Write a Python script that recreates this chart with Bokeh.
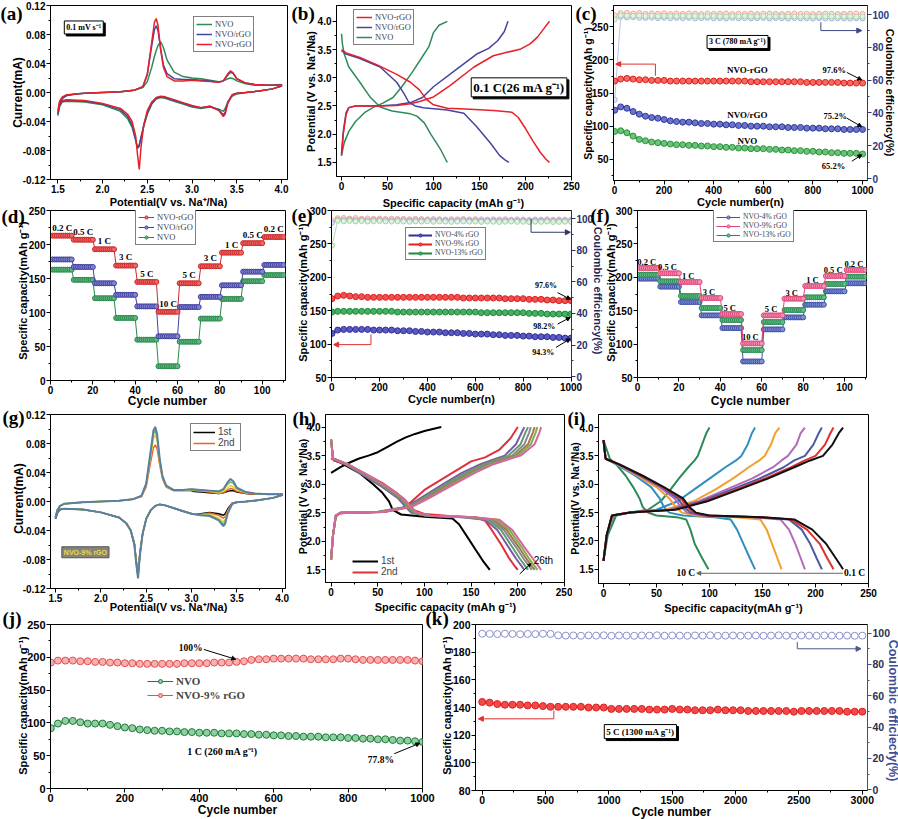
import numpy as np
from math import pi
from bokeh.plotting import figure
from bokeh.models import (Range1d, LinearAxis, Label, Legend, LegendItem, Arrow,
                          NormalHead, FixedTicker, PrintfTickFormatter)
from bokeh.layouts import column, row
from bokeh.embed import file_html
from bokeh.resources import INLINE

SANS = "Liberation Sans"
SERIF = "Liberation Serif"

# ======================= DATA =======================
# (a)/(g) cyclic voltammetry: potential grids (anodic sweep, cathodic sweep)
cv_up_x = [1.5, 1.52, 1.55, 1.6, 1.7, 1.8, 2.0, 2.2, 2.35, 2.45, 2.5, 2.55, 2.58, 2.6, 2.62,
           2.65, 2.68, 2.72, 2.8, 2.9, 3.0, 3.1, 3.2, 3.3, 3.35, 3.4, 3.43, 3.46, 3.5, 3.6,
           3.7, 3.85, 4.0]
cv_dn_x = [4.0, 3.9, 3.75, 3.6, 3.5, 3.45, 3.4, 3.37, 3.35, 3.3, 3.2, 3.1, 3.0, 2.9, 2.8,
           2.7, 2.65, 2.6, 2.55, 2.5, 2.46, 2.43, 2.41, 2.39, 2.37, 2.33, 2.28, 2.2, 2.0, 1.8,
           1.6, 1.55, 1.52, 1.5]
a_rgo_up = [-0.025, -0.012, -0.006, -0.003, -0.002, -0.001, 0.000, 0.001, 0.003, 0.008,
            0.025, 0.070, 0.097, 0.102, 0.092, 0.058, 0.035, 0.022, 0.016, 0.016,
            0.017, 0.016, 0.015, 0.014, 0.016, 0.026, 0.030, 0.027, 0.019, 0.013,
            0.011, 0.010, 0.010]
a_slash_up = [-0.030, -0.014, -0.008, -0.004, -0.002, -0.001, 0.000, 0.001, 0.003, 0.008,
              0.025, 0.065, 0.087, 0.092, 0.085, 0.060, 0.038, 0.026, 0.019, 0.018,
              0.018, 0.017, 0.016, 0.014, 0.016, 0.024, 0.028, 0.026, 0.019, 0.013,
              0.011, 0.010, 0.010]
a_nvo_up = [-0.032, -0.015, -0.008, -0.004, -0.002, -0.001, 0.000, 0.001, 0.003, 0.007,
            0.015, 0.035, 0.050, 0.058, 0.065, 0.070, 0.062, 0.045, 0.028, 0.022,
            0.020, 0.019, 0.017, 0.015, 0.016, 0.019, 0.020, 0.019, 0.016, 0.012,
            0.010, 0.010, 0.011]
a_rgo_dn = [0.009, 0.005, 0.002, 0.000, -0.001, -0.003, -0.015, -0.030, -0.033, -0.025,
            -0.019, -0.021, -0.018, -0.014, -0.010, -0.006, -0.005, -0.007, -0.013, -0.025,
            -0.045, -0.075, -0.106, -0.085, -0.060, -0.040, -0.030, -0.022, -0.015, -0.011,
            -0.010, -0.011, -0.016, -0.026]
a_slash_dn = [0.009, 0.005, 0.002, 0.000, -0.001, -0.003, -0.013, -0.027, -0.031, -0.024,
              -0.019, -0.021, -0.019, -0.015, -0.011, -0.007, -0.006, -0.008, -0.015, -0.028,
              -0.045, -0.062, -0.074, -0.077, -0.065, -0.045, -0.033, -0.024, -0.016, -0.012,
              -0.011, -0.012, -0.018, -0.030]
a_nvo_dn = [0.009, 0.005, 0.002, 0.000, -0.002, -0.005, -0.013, -0.022, -0.026, -0.023,
            -0.020, -0.022, -0.020, -0.016, -0.012, -0.008, -0.007, -0.009, -0.016, -0.030,
            -0.047, -0.062, -0.072, -0.075, -0.066, -0.048, -0.036, -0.026, -0.017, -0.013,
            -0.012, -0.013, -0.019, -0.032]

# (b) charge/discharge at 0.1 C
b_rgo_dis_cap = [0, 5, 20, 40, 60, 75, 85, 92, 100, 115, 140, 165, 185, 192, 200, 208, 216, 222, 226]
b_rgo_dis_v = [3.50, 3.44, 3.36, 3.22, 3.06, 2.92, 2.78, 2.62, 2.52, 2.46, 2.44, 2.42, 2.39, 2.30, 2.10, 1.88, 1.68, 1.56, 1.50]
b_rgo_chg_cap = [0, 2, 5, 8, 15, 40, 60, 75, 85, 100, 118, 144, 165, 180, 195, 205, 213, 220, 226]
b_rgo_chg_v = [1.62, 2.00, 2.35, 2.47, 2.50, 2.50, 2.51, 2.54, 2.58, 2.66, 2.86, 3.19, 3.39, 3.45, 3.51, 3.60, 3.72, 3.87, 4.00]
b_slash_dis_cap = [0, 5, 20, 42, 60, 68, 73, 80, 89, 115, 133, 147, 162, 172, 178, 182]
b_slash_dis_v = [3.48, 3.42, 3.34, 3.19, 2.92, 2.72, 2.57, 2.50, 2.47, 2.43, 2.37, 2.13, 1.84, 1.62, 1.54, 1.50]
b_slash_chg_cap = [0, 2, 5, 8, 15, 40, 60, 75, 88, 100, 126, 147, 160, 170, 177, 181]
b_slash_chg_v = [1.65, 2.05, 2.38, 2.47, 2.50, 2.50, 2.52, 2.56, 2.65, 2.84, 3.16, 3.42, 3.52, 3.66, 3.82, 4.00]
b_nvo_dis_cap = [0, 1, 3, 8, 20, 31, 42, 55, 64, 75, 82, 90, 97, 103, 108, 113, 115]
b_nvo_dis_v = [3.78, 3.60, 3.42, 3.19, 2.92, 2.66, 2.48, 2.41, 2.39, 2.36, 2.32, 2.20, 2.00, 1.85, 1.72, 1.56, 1.50]
b_nvo_chg_cap = [0, 3, 8, 15, 25, 35, 45, 56, 66, 77, 87, 95, 100, 106, 115]
b_nvo_chg_v = [1.62, 1.85, 2.05, 2.22, 2.38, 2.48, 2.55, 2.65, 2.85, 3.10, 3.35, 3.55, 3.80, 3.93, 4.00]

# (c) cycling at 3 C
c_cyc = [1] + list(range(25, 1001, 25))
c_rgo = [168, 171, 172, 171, 170, 170, 169, 169, 169, 168, 168, 168, 168, 168, 168, 168, 168, 168,
         168, 168, 168, 168, 167, 167, 167, 167, 167, 167, 167, 167, 167, 166, 166, 166, 166, 166,
         166, 165, 165, 165, 165]
c_slash = [124, 129, 127, 122, 118, 115, 113, 112, 110, 108, 107, 106, 106, 105, 104, 104, 103, 103,
           102, 102, 101, 101, 100, 100, 100, 99, 99, 99, 98, 98, 98, 97, 97, 97, 96, 96, 96, 95, 95,
           95, 95]
c_nvo = [92, 93, 90, 85, 80, 78, 76, 75, 74, 73, 72, 72, 71, 71, 70, 70, 69, 69, 68, 68, 67, 67, 66,
         66, 66, 65, 65, 64, 64, 63, 63, 62, 62, 61, 61, 60, 60, 59, 59, 59, 58]
ce_c_rgo = [99.5, 100.8, 101.0, 100.6, 100.9, 100.4, 100.7, 100.5, 100.8, 100.3,
            100.6, 100.4, 100.7, 100.5, 100.3, 100.6, 100.4, 100.5, 100.7, 100.3,
            100.5, 100.4, 100.6, 100.3, 100.5, 100.6, 100.4, 100.3, 100.5, 100.6,
            100.4, 100.5, 100.3, 100.4, 100.6, 100.5, 100.3, 100.4, 100.5, 100.6, 100.4]
ce_c_slash = [48.0, 98.6, 98.2, 98.4, 98.0, 97.9, 98.1, 97.8, 98.0, 97.7,
              97.9, 97.8, 98.0, 97.6, 97.8, 97.9, 97.7, 97.8, 97.6, 97.9,
              97.7, 97.8, 97.6, 97.7, 97.9, 97.6, 97.8, 97.7, 97.5, 97.8,
              97.6, 97.7, 97.5, 97.8, 97.6, 97.5, 97.7, 97.6, 97.5, 97.7, 97.6]
ce_c_nvo = [97.0, 99.5, 99.3, 99.2, 99.4, 99.1, 99.3, 99.0, 99.2, 99.1,
            99.0, 99.2, 98.9, 99.1, 99.0, 98.9, 99.1, 99.0, 98.8, 99.0,
            98.9, 99.1, 98.8, 98.9, 99.0, 98.8, 98.9, 99.0, 98.8, 98.9,
            98.7, 98.9, 98.8, 98.7, 98.9, 98.8, 98.7, 98.8, 98.9, 98.7, 98.8]

# (d) rate performance (one value per 10-cycle step)
rate_labels = ["0.2 C", "0.5 C", "1 C", "3 C", "5 C", "10 C", "5 C", "3 C", "1 C", "0.5 C", "0.2 C"]
d_rgo_steps = [213, 207, 193, 169, 145, 101, 143, 168, 188, 202, 211]
d_slash_steps = [178, 167, 143, 126, 109, 65, 108, 123, 140, 160, 170]
d_nvo_steps = [163, 148, 121, 92, 60, 21, 57, 91, 120, 146, 155]

# (e) cycling of rGO contents
e_cyc = [1] + list(range(25, 1001, 25))
e_9 = [168, 172, 173, 172, 171, 171, 170, 170, 170, 170, 170, 170, 170, 170, 170, 170, 170, 170,
       170, 170, 170, 170, 169, 169, 169, 169, 169, 169, 169, 168, 168, 168, 168, 167, 167, 167,
       166, 166, 165, 165, 165]
e_13 = [148, 149, 149, 149, 149, 149, 149, 149, 149, 149, 149, 148, 148, 148, 148, 148, 148, 148,
        148, 148, 148, 148, 148, 148, 148, 147, 147, 147, 147, 147, 147, 147, 147, 146, 146, 146,
        145, 145, 145, 145, 145]
e_4 = [116, 121, 122, 122, 122, 122, 122, 121, 121, 121, 121, 120, 120, 120, 119, 119, 118, 118,
       118, 117, 117, 117, 116, 116, 115, 115, 115, 114, 114, 113, 113, 113, 112, 112, 111, 111,
       111, 110, 110, 109, 109]
ce_e_9 = [99.0, 100.4, 100.6, 100.2, 100.5, 100.1, 100.3, 100.0, 100.2, 99.9,
          100.1, 99.9, 100.0, 99.8, 100.0, 99.9, 99.7, 99.9, 99.8, 99.6,
          99.8, 99.7, 99.9, 99.6, 99.8, 99.7, 99.5, 99.7, 99.6, 99.8,
          99.5, 99.7, 99.6, 99.4, 99.6, 99.5, 99.7, 99.4, 99.6, 99.5, 99.6]
ce_e_13 = [83.0, 98.8, 98.5, 98.7, 98.4, 98.6, 98.3, 98.5, 98.6, 98.4,
           98.3, 98.5, 98.4, 98.2, 98.4, 98.3, 98.5, 98.2, 98.4, 98.3,
           98.1, 98.3, 98.4, 98.2, 98.3, 98.1, 98.3, 98.2, 98.0, 98.2,
           98.3, 98.1, 98.2, 98.0, 98.2, 98.1, 98.3, 98.0, 98.1, 98.2, 98.1]
ce_e_4 = [97.5, 99.4, 99.2, 99.5, 99.1, 99.3, 99.0, 99.2, 99.3, 99.1,
          99.0, 99.2, 99.1, 98.9, 99.1, 99.0, 99.2, 98.9, 99.1, 99.0,
          98.8, 99.0, 99.1, 98.9, 99.0, 98.8, 99.0, 98.9, 98.7, 98.9,
          99.0, 98.8, 98.9, 98.7, 98.9, 98.8, 99.0, 98.7, 98.8, 98.9, 98.8]

# (f) rate performance of rGO contents
f_4_steps = [198, 186, 163, 143, 124, 74, 122, 140, 159, 179, 191]
f_9_steps = [214, 206, 193, 169, 145, 101, 143, 168, 187, 202, 211]
f_13_steps = [204, 194, 172, 154, 136, 91, 133, 151, 170, 190, 201]

# (g) CV cycles of NVO-9% rGO
g_1st_up_x = [3.0, 3.1, 3.2, 3.3, 3.35, 3.4, 3.43, 3.46, 3.5, 3.6, 3.7, 3.85, 4.0]
g_1st_up = [0.014, 0.013, 0.012, 0.011, 0.012, 0.014, 0.015, 0.015, 0.013, 0.011, 0.010, 0.010, 0.010]
g_2nd_up = [-0.022, -0.012, -0.006, -0.003, -0.002, -0.001, 0.000, 0.001, 0.003, 0.007,
            0.020, 0.055, 0.074, 0.078, 0.073, 0.050, 0.031, 0.020, 0.015, 0.015,
            0.015, 0.014, 0.013, 0.011, 0.012, 0.016, 0.018, 0.017, 0.014, 0.011,
            0.010, 0.010, 0.010]
g_3rd_up = [-0.022, -0.012, -0.006, -0.003, -0.002, -0.001, 0.000, 0.001, 0.003, 0.008,
            0.023, 0.063, 0.087, 0.092, 0.084, 0.054, 0.033, 0.021, 0.016, 0.016,
            0.016, 0.015, 0.014, 0.012, 0.014, 0.019, 0.022, 0.020, 0.016, 0.012,
            0.011, 0.010, 0.010]
g_4th_up = [-0.022, -0.012, -0.006, -0.003, -0.002, -0.001, 0.000, 0.001, 0.003, 0.008,
            0.024, 0.067, 0.093, 0.098, 0.089, 0.056, 0.034, 0.022, 0.016, 0.016,
            0.017, 0.016, 0.015, 0.013, 0.016, 0.024, 0.027, 0.025, 0.018, 0.012,
            0.011, 0.010, 0.010]
g_5th_up = [-0.022, -0.012, -0.006, -0.003, -0.002, -0.001, 0.000, 0.001, 0.003, 0.008,
            0.025, 0.070, 0.098, 0.103, 0.093, 0.058, 0.035, 0.022, 0.016, 0.016,
            0.017, 0.016, 0.015, 0.014, 0.017, 0.027, 0.031, 0.028, 0.019, 0.013,
            0.011, 0.010, 0.010]
g_1st_dn = [0.009, 0.005, 0.002, 0.000, -0.001, -0.002, -0.010, -0.017, -0.019, -0.017,
            -0.015, -0.017, -0.017, -0.013, -0.009, -0.005, -0.004, -0.006, -0.012, -0.024,
            -0.045, -0.072, -0.100, -0.082, -0.058, -0.040, -0.030, -0.022, -0.015, -0.011,
            -0.010, -0.011, -0.016, -0.024]
g_2nd_dn = [0.009, 0.005, 0.002, 0.000, -0.001, -0.002, -0.012, -0.021, -0.023, -0.019,
            -0.016, -0.018, -0.017, -0.013, -0.009, -0.005, -0.004, -0.006, -0.012, -0.024,
            -0.045, -0.073, -0.102, -0.083, -0.059, -0.040, -0.030, -0.022, -0.015, -0.011,
            -0.010, -0.011, -0.016, -0.024]
g_3rd_dn = [0.009, 0.005, 0.002, 0.000, -0.001, -0.003, -0.014, -0.025, -0.028, -0.023,
            -0.018, -0.018, -0.017, -0.013, -0.009, -0.005, -0.004, -0.006, -0.012, -0.024,
            -0.045, -0.074, -0.104, -0.084, -0.060, -0.040, -0.030, -0.022, -0.015, -0.011,
            -0.010, -0.011, -0.016, -0.024]
g_4th_dn = [0.009, 0.005, 0.002, 0.000, -0.001, -0.003, -0.015, -0.028, -0.031, -0.025,
            -0.019, -0.019, -0.017, -0.013, -0.009, -0.005, -0.004, -0.006, -0.012, -0.024,
            -0.045, -0.075, -0.105, -0.085, -0.060, -0.040, -0.030, -0.022, -0.015, -0.011,
            -0.010, -0.011, -0.016, -0.024]
g_5th_dn = [0.009, 0.005, 0.002, 0.000, -0.001, -0.003, -0.016, -0.031, -0.034, -0.026,
            -0.020, -0.019, -0.017, -0.013, -0.009, -0.005, -0.004, -0.006, -0.012, -0.024,
            -0.045, -0.075, -0.106, -0.085, -0.060, -0.040, -0.030, -0.022, -0.015, -0.011,
            -0.010, -0.011, -0.016, -0.024]

# (h) charge/discharge cycles 1st..26th
h_1st_chg_cap = [0, 10, 20, 30, 40, 50, 60, 70, 80, 90, 100, 110, 118]
h_1st_chg_v = [3.20, 3.30, 3.38, 3.45, 3.50, 3.56, 3.65, 3.74, 3.82, 3.88, 3.93, 3.97, 4.00]
h_1st_dis_cap = [3, 10, 30, 45, 55, 62, 66, 75, 100, 130, 137, 145, 155, 163, 170]
h_1st_dis_v = [3.42, 3.38, 3.20, 3.00, 2.85, 2.70, 2.55, 2.47, 2.43, 2.40, 2.30, 2.10, 1.85, 1.65, 1.50]
h_2nd_chg_cap = [0, 2, 5, 8, 15, 40, 60, 75, 85, 100, 125, 140, 150, 165, 180, 192, 200]
h_2nd_chg_v = [1.70, 2.10, 2.42, 2.48, 2.50, 2.50, 2.52, 2.57, 2.68, 2.90, 3.15, 3.30, 3.40, 3.47, 3.60, 3.80, 4.00]
h_2nd_dis_cap = [0, 3, 15, 35, 55, 70, 80, 88, 100, 130, 155, 165, 172, 182, 190, 197, 200]
h_2nd_dis_v = [3.45, 3.42, 3.35, 3.20, 3.02, 2.85, 2.70, 2.55, 2.48, 2.44, 2.42, 2.36, 2.20, 1.95, 1.72, 1.56, 1.50]
h_dis_v = [3.78, 3.45, 3.35, 3.15, 2.95, 2.75, 2.60, 2.50, 2.45, 2.42, 2.38, 2.20, 1.90, 1.70, 1.50]
h_chg_v = [1.68, 2.10, 2.45, 2.50, 2.52, 2.60, 2.75, 3.00, 3.20, 3.35, 3.42, 3.50, 3.70, 3.90, 4.00]
h_later_dis = [
    [0, 2, 15, 35, 55, 72, 80, 86, 100, 140, 165, 178, 190, 198, 207],
    [0, 2, 16, 37, 57, 74, 82, 88, 102, 145, 168, 182, 194, 202, 211],
    [0, 2, 17, 38, 58, 75, 83, 89, 104, 148, 171, 185, 198, 206, 215],
    [0, 2, 17, 39, 59, 76, 84, 90, 105, 150, 174, 188, 201, 209, 218],
    [0, 2, 18, 40, 60, 77, 85, 91, 106, 152, 177, 191, 204, 212, 221],
    [0, 2, 18, 40, 61, 78, 86, 92, 107, 153, 180, 194, 207, 216, 225],
]
h_later_chg = [
    [0, 2, 5, 10, 50, 80, 95, 120, 140, 160, 172, 186, 198, 204, 207],
    [0, 2, 5, 10, 52, 82, 98, 123, 144, 164, 176, 190, 203, 208, 211],
    [0, 2, 5, 10, 53, 83, 100, 126, 147, 167, 179, 194, 207, 212, 214],
    [0, 2, 5, 10, 54, 84, 101, 128, 150, 170, 182, 197, 211, 216, 218],
    [0, 2, 5, 10, 55, 85, 103, 130, 152, 172, 185, 200, 214, 219, 221],
    [0, 2, 5, 10, 56, 86, 104, 132, 154, 174, 187, 203, 218, 223, 225],
]

# (i) charge/discharge at different rates
i_dis_v = [3.78, 3.45, 3.35, 3.15, 2.95, 2.75, 2.60, 2.50, 2.45, 2.42, 2.38, 2.20, 1.95, 1.70, 1.50]
i_chg_v = [1.65, 2.10, 2.45, 2.50, 2.55, 2.70, 2.90, 3.10, 3.30, 3.42, 3.50, 3.70, 3.90, 4.00]
i_dis_10C = [0, 6, 12, 21, 28, 34, 37, 42, 50, 69, 78, 82, 86, 93, 99]
i_dis_5C = [0, 2, 12, 30, 45, 53, 57, 62, 75, 105, 120, 126, 132, 138, 143]
i_dis_2C = [0, 2, 13, 32, 50, 62, 68, 74, 88, 125, 148, 154, 159, 164, 168]
i_dis_1C = [0, 2, 14, 34, 53, 67, 73, 79, 92, 140, 167, 175, 181, 186, 190]
i_dis_05C = [0, 2, 14, 35, 55, 70, 76, 82, 95, 145, 175, 187, 195, 201, 206]
i_dis_02C = [0, 2, 15, 36, 56, 73, 79, 85, 98, 148, 177, 192, 204, 211, 217]
i_dis_01C = [0, 2, 15, 37, 57, 75, 81, 87, 100, 150, 180, 197, 210, 219, 226]
i_chg_10C = [0, 4, 12, 25, 42, 54, 63, 71, 80, 86, 89, 93, 97, 100]
i_chg_5C = [0, 3, 10, 25, 50, 70, 85, 100, 115, 125, 130, 136, 140, 143]
i_chg_2C = [0, 3, 9, 25, 58, 85, 105, 122, 137, 147, 152, 158, 162, 166]
i_chg_1C = [0, 3, 8, 25, 62, 90, 115, 140, 160, 168, 174, 182, 186, 190]
i_chg_05C = [0, 3, 8, 25, 64, 93, 120, 147, 170, 180, 190, 198, 203, 206]
i_chg_02C = [0, 3, 8, 25, 66, 96, 124, 152, 177, 190, 200, 209, 214, 217]
i_chg_01C = [0, 3, 8, 25, 68, 98, 127, 155, 180, 195, 207, 216, 222, 226]

# (j) cycling at 1 C
j_cyc = [1] + list(range(20, 1001, 20))
j_rgo = [192, 195, 195, 195, 194, 194, 193, 193, 192, 192, 191, 191, 190, 190, 190, 190, 190, 190,
         191, 191, 191, 191, 192, 192, 192, 193, 194, 196, 197, 197, 198, 198, 198, 198, 198, 197,
         197, 197, 197, 198, 198, 197, 196, 196, 196, 196, 196, 196, 196, 195, 194]
j_nvo = [92, 99, 103, 103, 101, 99, 99, 99, 97, 95, 93, 92, 90, 89, 88, 88, 87, 87, 86, 86, 85, 85,
         85, 84, 84, 84, 83, 83, 82, 82, 81, 81, 80, 80, 79, 79, 79, 78, 78, 78, 77, 77, 76, 76, 75,
         75, 74, 73, 73, 72, 71]

# (k) long cycling at 5 C
k_cyc = [1] + list(range(60, 3001, 60))
k_cap = [144.0, 143.5, 142.5, 142.0, 142.0, 142.0, 141.5, 141.5, 141.0, 140.5,
         140.5, 140.5, 140.5, 140.5, 140.0, 140.0, 140.0, 139.0, 139.0, 139.0,
         139.0, 139.0, 138.5, 138.5, 138.5, 139.0, 138.5, 138.5, 138.0, 138.0,
         138.0, 138.5, 138.0, 138.0, 138.0, 137.5, 137.5, 137.5, 137.5, 137.5,
         137.5, 137.0, 137.5, 137.5, 137.5, 137.5, 137.5, 137.5, 137.0, 137.0, 137.0]
k_ce = [99.6, 99.5, 99.4, 99.6, 99.5, 99.3, 99.5, 99.4, 99.6, 99.5,
        98.6, 98.4, 98.5, 98.3, 98.5, 98.4, 98.6, 98.3, 98.5, 98.4,
        98.3, 98.5, 98.4, 98.6, 98.3, 98.5, 98.4, 98.3, 98.5, 98.4,
        98.6, 98.3, 98.4, 98.5, 98.3, 98.4, 98.5, 98.3, 98.4, 98.6,
        98.4, 98.3, 98.5, 98.4, 98.3, 98.5, 98.4, 98.3, 98.4, 98.3, 98.4]

# panel letters and axis titles (texts)
panel_letters = ["(a)", "(b)", "(c)", "(d)", "(e)", "(f)", "(g)", "(h)", "(i)", "(j)", "(k)"]
T_CAP = "Specific capacity(mAh g⁻¹)"
T_CAP_SP = "Specific capacity (mAh g⁻¹)"
T_POT = "Potential(V vs. Na⁺/Na)"
T_POT_SP = "Potential (V vs. Na⁺/Na)"
T_CE = "Coulombic efficiency(%)"

# ======================= HELPERS =======================
def make(xr, yr, bl, fw, br, bt, fh, bb):
    p = figure(frame_width=fw, frame_height=fh, min_border_left=bl, min_border_right=br,
               min_border_top=bt, min_border_bottom=bb, x_range=Range1d(*xr), y_range=Range1d(*yr),
               output_backend="svg", toolbar_location=None)
    p.outline_line_color = "black"
    p.outline_line_width = 1
    p.outline_line_alpha = 1
    p.xgrid.visible = False
    p.ygrid.visible = False
    p.background_fill_color = "white"
    p.border_fill_color = "white"
    return p


def mids(t):
    return [(a + b) / 2 for a, b in zip(t[:-1], t[1:])]


def style_axis(ax, major, minor, fmt, size="10px", color="black", line_color="black"):
    ax.ticker = FixedTicker(ticks=major, minor_ticks=minor)
    ax.formatter = PrintfTickFormatter(format=fmt)
    ax.axis_line_color = line_color
    ax.major_tick_line_color = line_color
    ax.minor_tick_line_color = line_color
    ax.major_tick_out = 4
    ax.major_tick_in = 0
    ax.minor_tick_out = 2
    ax.minor_tick_in = 0
    ax.major_label_standoff = 1
    ax.major_label_text_font = SANS
    ax.major_label_text_font_style = "bold"
    ax.major_label_text_font_size = size
    ax.major_label_text_color = color


def axes(p, xt, yt, xf, yf, size="10px", xminor=None, yminor=None):
    style_axis(p.xaxis[0], xt, xminor if xminor is not None else mids(xt), xf, size)
    style_axis(p.yaxis[0], yt, yminor if yminor is not None else mids(yt), yf, size)


def add_right(p, rng, major, color, size="10px", line_color=None):
    p.extra_y_ranges = {"ce": Range1d(*rng)}
    ax = LinearAxis(y_range_name="ce")
    p.add_layout(ax, "right")
    style_axis(ax, major, mids(major), "%d", size, color, line_color or color)
    return ax


def lab(p, x, y, text, size="9px", font=SERIF, style="bold", color="black", align="center",
        baseline="middle", units="data", angle=0.0, yname="default", **kw):
    l = Label(x=x, y=y, x_units=units, y_units=units, text=text, text_font=font,
              text_font_size=size, text_font_style=style, text_color=color,
              text_align=align, text_baseline=baseline, angle=angle, y_range_name=yname, **kw)
    p.add_layout(l)
    return l


def boxed(p, x, y, s, size, yname="default"):
    lab(p, x, y, s, size=size, x_offset=2, y_offset=-2, background_fill_color="black",
        border_line_color="black", yname=yname, padding=2)
    lab(p, x, y, s, size=size, background_fill_color="white", border_line_color="black",
        yname=yname, padding=2)


def arr(p, x0, y0, x1, y1, color="black", w=1, size=4, yname="default"):
    p.add_layout(Arrow(x_start=x0, y_start=y0, x_end=x1, y_end=y1, line_color=color, line_width=w,
                       end=NormalHead(size=size, fill_color=color, line_color=color),
                       y_range_name=yname))


def dots(p, x, y, color, fill, size=6, yname="default", lw=1.0, line=True):
    rs = []
    if line:
        rs.append(p.line(x, y, line_color=color, line_width=lw, y_range_name=yname))
    rs.append(p.scatter(x, y, marker="circle", size=size, line_color=color, fill_color=fill,
                        line_width=1, y_range_name=yname))
    return rs


def legend(p, items, loc, size="8.5px", font=SERIF, style="normal", border=True, gw=16, gh=8,
           lh=8, padding=2, spacing=0):
    lg = Legend(items=[LegendItem(label=l, renderers=r) for l, r in items], location=loc,
                orientation="vertical", label_text_font=font, label_text_font_size=size,
                label_text_font_style=style, glyph_width=gw, glyph_height=gh, label_height=lh,
                label_standoff=3, spacing=spacing, padding=padding, margin=0,
                border_line_color="black" if border else None,
                background_fill_alpha=1.0 if border else 0.0)
    p.add_layout(lg)


cv_xt = [1.5, 2.0, 2.5, 3.0, 3.5, 4.0]
cv_yt = [-0.12, -0.08, -0.04, 0.0, 0.04, 0.08, 0.12]
cap_xt = [0, 50, 100, 150, 200, 250]
v_yt = [1.5, 2.0, 2.5, 3.0, 3.5, 4.0]
cyc1000 = [0, 200, 400, 600, 800, 1000]
ce_t = [0, 20, 40, 60, 80, 100]
rate_x = list(range(1, 111))

RED, BLUE, GREEN = "#e8202a", "#45459e", "#2e8b57"

# ---------------- (a) ----------------
pa = make((1.418, 4.067), (-0.12, 0.12), 50, 237, 6, 5, 174, 26)
axes(pa, cv_xt, cv_yt, "%.1f", "%.2f")
ra1 = pa.line(cv_up_x + cv_dn_x, a_nvo_up + a_nvo_dn, line_color=GREEN, line_width=1.5)
ra2 = pa.line(cv_up_x + cv_dn_x, a_slash_up + a_slash_dn, line_color=BLUE, line_width=1.5)
ra3 = pa.line(cv_up_x + cv_dn_x, a_rgo_up + a_rgo_dn, line_color=RED, line_width=1.5)
legend(pa, [("NVO", [ra1]), ("NVO/rGO", [ra2]), ("NVO-rGO", [ra3])], (143, 127))
boxed(pa, 1.79, 0.0897, "0.1 mV s⁻¹", "8px")

# ---------------- (b) ----------------
pb = make((-5.4, 250), (1.25, 4.28), 43, 235, 9, 5, 171, 29)
axes(pb, cap_xt, v_yt, "%d", "%.1f")
rb3 = pb.line(b_nvo_dis_cap, b_nvo_dis_v, line_color=GREEN, line_width=1.5)
pb.line(b_nvo_chg_cap, b_nvo_chg_v, line_color=GREEN, line_width=1.5)
rb2 = pb.line(b_slash_dis_cap, b_slash_dis_v, line_color=BLUE, line_width=1.5)
pb.line(b_slash_chg_cap, b_slash_chg_v, line_color=BLUE, line_width=1.5)
rb1 = pb.line(b_rgo_dis_cap, b_rgo_dis_v, line_color=RED, line_width=1.5)
pb.line(b_rgo_chg_cap, b_rgo_chg_v, line_color=RED, line_width=1.5)
legend(pb, [("NVO-rGO", [rb1]), ("NVO/rGO", [rb2]), ("NVO", [rb3])], (17, 131))
boxed(pb, 193, 2.83, "0.1 C(26 mA g⁻¹)", "13px")

# ---------------- (c) ----------------
pc = make((-4, 1020), (18, 282), 33, 254, 31, 5, 175, 25)
axes(pc, cyc1000, [50, 100, 150, 200, 250], "%d", "%d",
     yminor=[25, 75, 125, 175, 225, 275])
add_right(pc, (-1.2, 105.5), ce_t, "#2b3a80")
dots(pc, c_cyc, ce_c_rgo, "#f3a49c", "#fde3df", 5, "ce", 0.8)
dots(pc, c_cyc, ce_c_slash, "#a7b2e2", "#e3e7f7", 5, "ce", 0.8)
dots(pc, c_cyc, ce_c_nvo, "#a9d9ab", "#e3f3e3", 5, "ce", 0.8)
dots(pc, c_cyc, c_rgo, "#e0201c", "#f26a62", 6, lw=2)
dots(pc, c_cyc, c_slash, "#2f3aa0", "#6b74c8", 6, lw=2)
dots(pc, c_cyc, c_nvo, "#27953a", "#6cc27a", 6, lw=2)
lab(pc, 536, 185, "NVO-rGO", "9px")
lab(pc, 536, 117, "NVO/rGO", "9px")
lab(pc, 536, 77, "NVO", "9px")
lab(pc, 886, 185, "97.6%", "8.5px")
lab(pc, 890, 116, "75.2%", "8.5px")
lab(pc, 883, 40, "65.2%", "8.5px")
arr(pc, 937, 181, 997, 169.5)
arr(pc, 937, 112, 997, 99)
arr(pc, 957, 47, 997, 57)
pc.line([165, 165], [176, 193.6], line_color="#e03030", line_width=1)
arr(pc, 165, 193.6, 5, 193.6, "#e03030", size=5)
pc.line([832, 832], [95.3, 90.2], line_color="#3a4a8a", line_width=1, y_range_name="ce")
arr(pc, 832, 90.2, 997, 90.2, "#3a4a8a", size=5, yname="ce")
boxed(pc, 496, 227, "3 C (780 mA g⁻¹)", "8px")

# ---------------- (d) ----------------
pD = make((0, 111), (0, 250), 50, 235, 5, 5, 170, 27)
axes(pD, [0, 20, 40, 60, 80, 100], [0, 50, 100, 150, 200, 250], "%d", "%d",
     xminor=[10, 30, 50, 70, 90, 110])
rd3 = dots(pD, rate_x, np.repeat(d_nvo_steps, 10).tolist(), "#2a8a4a", "#62b583", 5)
rd2 = dots(pD, rate_x, np.repeat(d_slash_steps, 10).tolist(), "#4040a0", "#8585d2", 5)
rd1 = dots(pD, rate_x, np.repeat(d_rgo_steps, 10).tolist(), "#cc2a2a", "#f06565", 5)
legend(pD, [("NVO-rGO", rd1), ("NVO/rGO", rd2), ("NVO", rd3)], (85, 135))
for k, (t, v) in enumerate(zip(rate_labels, d_rgo_steps)):
    lab(pD, 10 * k + 5.5, v + 12, t, "9px")

# ---------------- (e) ----------------
pe = make((-1, 1002), (50, 300), 41, 240, 31, 5, 167, 30)
axes(pe, cyc1000, [50, 100, 150, 200, 250, 300], "%d", "%d")
add_right(pe, (-0.6, 105.3), ce_t, "#26306a")
dots(pe, e_cyc, ce_e_9, "#f0a8a0", "#fbe0dc", 5, "ce", 0.8)
dots(pe, e_cyc, ce_e_4, "#a0a8d8", "#e0e4f5", 5, "ce", 0.8)
dots(pe, e_cyc, ce_e_13, "#a0d4a0", "#e0f2e0", 5, "ce", 0.8)
re_b = dots(pe, e_cyc, e_4, "#30309a", "#5a5ac2", 6, lw=2)
re_r = dots(pe, e_cyc, e_9, "#e02020", "#f05050", 6, lw=2)
re_g = dots(pe, e_cyc, e_13, "#1f8a3a", "#45b063", 6, lw=2)
legend(pe, [("NVO-4% rGO", re_b), ("NVO-9% rGO", re_r), ("NVO-13% rGO", re_g)], (74, 117),
       size="7.5px", gw=24)
lab(pe, 895, 187, "97.6%", "8px")
lab(pe, 888, 126, "98.2%", "8px")
lab(pe, 884, 88, "94.3%", "8px")
arr(pe, 944, 177, 998, 167)
arr(pe, 944, 130, 997, 140)
arr(pe, 937, 95, 997, 108)
pe.line([164, 164], [99.2, 114.3], line_color="#e03030", line_width=1)
arr(pe, 164, 99.2, 8, 99.2, "#e03030", size=5)
pe.line([833, 833], [100, 91.5], line_color="#2a3a6a", line_width=1, y_range_name="ce")
arr(pe, 833, 91.5, 997, 91.5, "#2a3a6a", size=5, yname="ce")

# ---------------- (f) ----------------
pf = make((0, 110.6), (50, 300), 35, 229, 32, 5, 167, 30)
axes(pf, [0, 20, 40, 60, 80, 100], [50, 100, 150, 200, 250, 300], "%d", "%d",
     xminor=[10, 30, 50, 70, 90, 110])
rf_b = dots(pf, rate_x, np.repeat(f_4_steps, 10).tolist(), "#4050a8", "#8090d0", 5)
rf_g = dots(pf, rate_x, np.repeat(f_13_steps, 10).tolist(), "#2e8b57", "#60c080", 5)
rf_r = dots(pf, rate_x, np.repeat(f_9_steps, 10).tolist(), "#e0457a", "#f590b0", 5)
legend(pf, [("NVO-4% rGO", rf_b), ("NVO-9% rGO", rf_r), ("NVO-13% rGO", rf_g)], (76, 135),
       size="7.5px", gw=24)
for k, (t, v) in enumerate(zip(rate_labels, f_9_steps)):
    lab(pf, 10 * k + 4.5, v + 9, t, "8.5px")

# ---------------- (g) ----------------
pg = make((1.445, 4.036), (-0.12, 0.12), 50, 235, 8, 4, 174, 25)
axes(pg, cv_xt, cv_yt, "%.1f", "%.2f")
rg1 = pg.line(g_1st_up_x + cv_dn_x, g_1st_up + g_1st_dn, line_color="black", line_width=1.5)
rg2 = pg.line(cv_up_x + cv_dn_x, g_2nd_up + g_2nd_dn, line_color="#e8642c", line_width=1.5)
pg.line(cv_up_x + cv_dn_x, g_3rd_up + g_3rd_dn, line_color="#f0d12a", line_width=1.5)
pg.line(cv_up_x + cv_dn_x, g_4th_up + g_4th_dn, line_color="#6cbf5a", line_width=1.5)
pg.line(cv_up_x + cv_dn_x, g_5th_up + g_5th_dn, line_color="#5b7fa0", line_width=2)
legend(pg, [("1st", [rg1]), ("2nd", [rg2])], (140, 137), size="10px", font=SANS, gw=22, lh=10)
lab(pg, 1.83, -0.070, "NVO-9% rGO", "7px", SANS, "bold", color="#ecd94a",
    background_fill_color="#858578", border_line_color="#555555", padding=2)

# ---------------- (h) ----------------
ph = make((-6, 250), (1.28, 4.22), 32, 239, 8, 7, 168, 28)
axes(ph, cap_xt, v_yt, "%d", "%.1f")
rh1 = ph.line(h_1st_chg_cap, h_1st_chg_v, line_color="black", line_width=2)
ph.line(h_1st_dis_cap, h_1st_dis_v, line_color="black", line_width=2)
rh2 = ph.line(h_2nd_chg_cap, h_2nd_chg_v, line_color="#e0303a", line_width=2)
ph.line(h_2nd_dis_cap, h_2nd_dis_v, line_color="#e0303a", line_width=2)
H_COLS = ["#7b5aa6", "#5e9e6e", "#8a8a8a", "#a07850", "#7fb04a", "#d4679e"]
for cd, cc, col in zip(h_later_dis, h_later_chg, H_COLS):
    ph.line(cd, h_dis_v, line_color=col, line_width=2)
    ph.line(cc, h_chg_v, line_color=col, line_width=2)
legend(ph, [("1st", [rh1]), ("2nd", [rh2])], (27, 5), size="10px", font=SANS, border=False,
       gw=26, lh=10)
lab(ph, 217, 1.66, "26th", "10px", SANS, "normal", align="left")
arr(ph, 202, 1.43, 214, 1.61, size=3)

# ---------------- (i) ----------------
pI = make((-4.7, 250), (1.25, 4.23), 26, 270, 30, 7, 169, 27)
axes(pI, cap_xt, v_yt, "%d", "%.1f")
I_SETS = [(i_dis_10C, i_chg_10C, "#2e8b57"), (i_dis_5C, i_chg_5C, "#2f8fbf"),
          (i_dis_2C, i_chg_2C, "#f0a030"), (i_dis_1C, i_chg_1C, "#b36ab8"),
          (i_dis_05C, i_chg_05C, "#4b5aa5"), (i_dis_02C, i_chg_02C, "#e03030"),
          (i_dis_01C, i_chg_01C, "#111111")]
for cd, cc, col in I_SETS:
    pI.line(cd, i_dis_v, line_color=col, line_width=2)
    pI.line(cc, i_chg_v, line_color=col, line_width=2)
arr(pI, 226, 1.43, 88, 1.43, "#666666", size=4)
lab(pI, 86.5, 1.43, "10 C", "9.5px", align="right")
lab(pI, 227, 1.43, "0.1 C", "9.5px", align="left")

# ---------------- (j) ----------------
pj = make((0, 1000), (0, 250), 50, 372, 18, 13, 164, 32)
axes(pj, cyc1000, [0, 50, 100, 150, 200, 250], "%d", "%d", size="11px")
rj_g = dots(pj, j_cyc, j_nvo, "#1f7a3a", "#8fd0a0", 7)
rj_r = dots(pj, j_cyc, j_rgo, "#e05050", "#f8b0b0", 7)
legend(pj, [("NVO", rj_g), ("NVO-9% rGO", rj_r)], (97, 87), size="11px", style="bold",
       border=False, gw=26, gh=10, lh=11, spacing=2)
lab(pj, 377, 214, "100%", "9.5px")
arr(pj, 412, 212, 498, 197)
lab(pj, 462, 56, "1 C (260 mA g⁻¹)", "10px")
lab(pj, 888, 43, "77.8%", "9.5px")
arr(pj, 924, 53, 993, 69)

# ---------------- (k) ----------------
pk = make((-52, 3041), (80, 200), 35, 392, 31, 14, 166, 29)
axes(pk, [0, 500, 1000, 1500, 2000, 2500, 3000], [80, 100, 120, 140, 160, 180, 200],
     "%d", "%d", size="10.5px")
add_right(pk, (-0.5, 105.5), ce_t, "#2a3050", size="10.5px", line_color="#3d4f96")
dots(pk, k_cyc, k_ce, "#8a90cc", "white", 7, "ce", line=False)
dots(pk, k_cyc, k_cap, "#e02020", "#f04a4a", 7, lw=2)
pk.line([566, 566], [131.8, 137.8], line_color="#e03030", line_width=1)
arr(pk, 566, 131.8, -30, 131.8, "#e03030", size=5)
pk.line([2487, 2487], [94.3, 90], line_color="#4a5a8a", line_width=1, y_range_name="ce")
arr(pk, 2487, 90, 2990, 90, "#4a5a8a", size=5, yname="ce")
boxed(pk, 1249, 122.6, "5 C (1300 mA g⁻¹)", "9px")

# ---------------- transparent overlay with panel letters and axis titles ----------------
ov = figure(frame_width=898, frame_height=819, min_border=0, x_range=Range1d(0, 898),
            y_range=Range1d(819, 0), output_backend="svg", toolbar_location=None,
            x_axis_location=None, y_axis_location=None)
ov.xgrid.visible = False
ov.ygrid.visible = False
ov.outline_line_color = None
ov.background_fill_alpha = 0
ov.border_fill_alpha = 0
ov.margin = (-819, 0, 0, 0)

letter_pos = [(0, 2), (291, 2), (575, 2), (1, 205), (291, 204), (590, 204),
              (2, 406), (292, 407), (567, 407), (2, 607), (425, 607)]
for s, (x, y) in zip(panel_letters, letter_pos):
    lab(ov, x, y, s, "19px", SERIF, "bold", align="left", baseline="top")

y_titles = [(17, 92, "Current(mA)", "12px", pi / 2, "black"),
            (310, 91, T_POT_SP, "11px", pi / 2, "black"),
            (587, 93, T_CAP, "10.5px", pi / 2, "black"),
            (889, 92, T_CE, "11px", -pi / 2, "black"),
            (22, 290, T_CAP, "11px", pi / 2, "black"),
            (302, 292, T_CAP, "11px", pi / 2, "black"),
            (597, 290, T_CE, "11px", -pi / 2, "#1e2656"),
            (610, 292, T_CAP, "11px", pi / 2, "black"),
            (18, 498, "Current(mA)", "12px", pi / 2, "black"),
            (302, 496, T_POT_SP, "10.5px", pi / 2, "black"),
            (574, 498, T_POT, "10.5px", pi / 2, "black"),
            (22, 705, T_CAP, "11px", pi / 2, "black"),
            (446, 705, T_CAP, "11px", pi / 2, "black"),
            (892, 710, "Coulombic efficiecfy(%)", "12.5px", -pi / 2, "#3d4f96")]
for x, y, s, fs, ang, col in y_titles:
    lab(ov, x, y, s, fs, SANS, "bold", color=col, angle=ang)

x_titles = [(168, 201, T_POT, "11px"), (453, 202, T_CAP_SP, "11px"),
            (740, 201, "Cycle number(n)", "11px"), (167, 400, "Cycle number", "12px"),
            (451, 398, "Cycle number(n)", "11px"), (750, 400, "Cycle number", "12px"),
            (168, 606, T_POT, "11px"), (445, 606, T_CAP_SP, "11px"),
            (733, 607, T_CAP, "11px"), (237, 809, "Cycle number", "12px"),
            (671, 811, "Cycle number", "12px")]
for x, y, s, fs in x_titles:
    lab(ov, x, y, s, fs, SANS, "bold")

layout = column(row(pa, pb, pc), row(pD, pe, pf), row(pg, ph, pI), row(pj, pk), ov)
open("out.html", "w").write(file_html(layout, INLINE, "figure"))
